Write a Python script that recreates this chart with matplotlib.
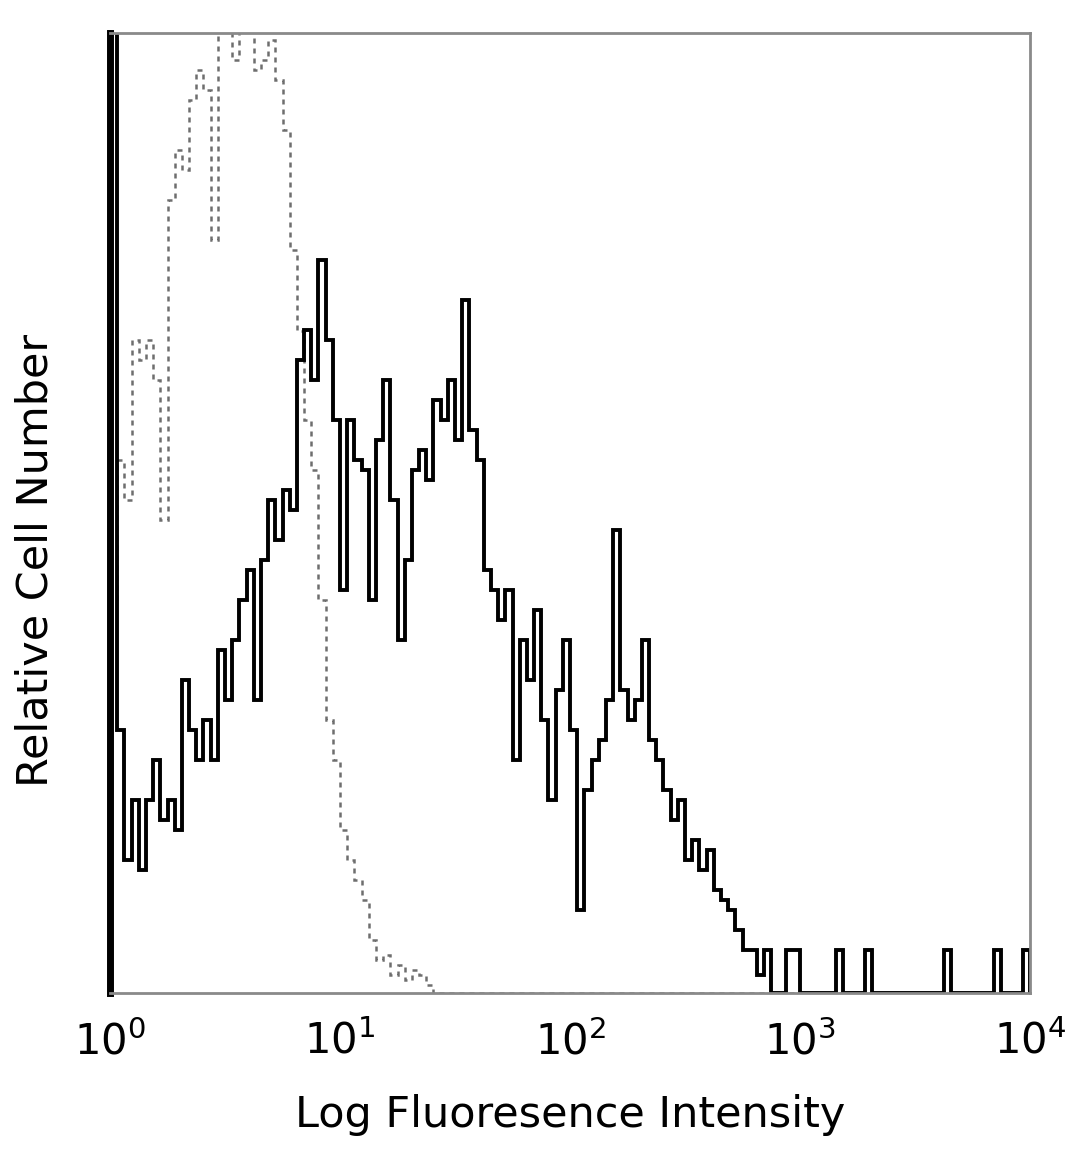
import numpy as np
import matplotlib
matplotlib.use("Agg")
import matplotlib.pyplot as plt

# histogram bins: 128 channels over 4 log decades
n_bins = 128
decades = (0, 4)

# stained sample (solid black), relative counts (axis top = 100)
stained = [150, 27.4, 13.9, 20.1, 12.8, 20.1, 24.3, 18.0, 20.1, 17.0,
           32.6, 27.4, 24.3, 28.4, 24.3, 35.7, 30.5, 36.8, 40.9, 44.1,
           30.5, 45.1, 51.4, 47.2, 52.4, 50.3, 65.9, 69.1, 63.9, 76.4,
           68.0, 59.7, 42.0, 59.7, 55.5, 54.5, 40.9, 57.6, 63.9, 51.4,
           36.8, 45.1, 54.5, 56.6, 53.4, 61.8, 59.7, 63.9, 57.6, 72.2,
           58.6, 55.5, 44.1, 42.0, 38.9, 42.0, 24.3, 36.8, 32.6, 39.9,
           28.4, 20.1, 31.6, 36.8, 27.4, 8.6, 21.1, 24.3, 26.4, 30.5,
           48.2, 31.6, 28.4, 30.5, 36.8, 26.4, 24.3, 21.1, 18.0, 20.1,
           13.9, 15.9, 12.8, 14.9, 10.7, 9.7, 8.6, 6.6, 4.5, 4.5,
           1.9, 4.5, 0, 0, 4.5, 4.5, 0, 0, 0, 0,
           0, 4.5, 0, 0, 0, 4.5, 0, 0, 0, 0,
           0, 0, 0, 0, 0, 0, 4.5, 0, 0, 0,
           0, 0, 0, 4.5, 0, 0, 0, 4.5]

# isotype control (dashed grey), relative counts
control = [40.9, 55.5, 51.4, 68.0, 65.9, 68.0, 63.9, 49.3, 82.6, 87.8,
           85.7, 93.0, 96.1, 94.1, 78.4, 104, 102, 97.2, 101, 103,
           96.1, 97.2, 99.3, 95.1, 89.9, 77.4, 69.0, 59.7, 54.5, 40.9,
           28.4, 24.3, 17.0, 13.9, 11.8, 9.7, 5.5, 3.4, 4.0, 1.9,
           2.9, 1.4, 2.4, 1.9, 0.8] + [0] * 83

xticks = [1, 10, 100, 1000, 10000]
xticklabels = [r"$\mathdefault{10^{0}}$", r"$\mathdefault{10^{1}}$", r"$\mathdefault{10^{2}}$",
               r"$\mathdefault{10^{3}}$", r"$\mathdefault{10^{4}}$"]

edges = np.logspace(decades[0], decades[1], n_bins + 1)

fig = plt.figure(figsize=(10.8, 11.69), dpi=100)
ax = fig.add_axes([0.1019, 0.1506, 0.8518, 0.8212])

ax.stairs(control, edges, color="#6e6e6e", lw=1.8, linestyle=(0, (2, 2)))
ax.stairs(stained, edges, color="black", lw=2.8)

ax.set_xscale("log")
ax.set_xlim(1, 1e4)
ax.set_ylim(0, 100)
ax.set_xticks(xticks)
ax.set_xticklabels(xticklabels, fontsize=30)
ax.minorticks_off()
ax.set_yticks([])
ax.tick_params(axis="x", length=0, pad=20)

for s in ["top", "right", "bottom"]:
    ax.spines[s].set_color("#8a8a8a")
    ax.spines[s].set_linewidth(2)
ax.spines["left"].set_color("black")
ax.spines["left"].set_linewidth(5)

ax.set_xlabel("Log Fluoresence Intensity", fontsize=31, labelpad=22)
ax.set_ylabel("Relative Cell Number", fontsize=31)
ax.yaxis.set_label_coords(-0.058, 0.451)

fig.savefig("out.png", dpi=100)
